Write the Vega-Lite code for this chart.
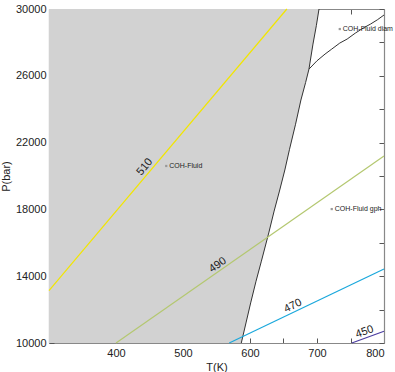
{
  "$schema": "https://vega.github.io/schema/vega-lite/v6.json",
  "width": 335,
  "height": 334,
  "padding": {"left": 0, "top": 3, "right": 2, "bottom": 3},
  "config": {
    "font": "Liberation Sans",
    "view": {"stroke": null},
    "axis": {
      "domainColor": "#888888",
      "domainWidth": 1.2,
      "tickColor": "#555555",
      "tickSize": -5,
      "grid": false,
      "labelFont": "Liberation Sans",
      "labelFontSize": 11,
      "labelColor": "#222222",
      "titleFont": "Liberation Sans",
      "titleFontSize": 11,
      "titleFontWeight": "normal",
      "titleColor": "#222222"
    }
  },
  "datasets": {
    "boundary": [
      {"T": 587, "P": 10000},
      {"T": 594, "P": 11200},
      {"T": 601, "P": 12400},
      {"T": 609, "P": 13700},
      {"T": 617, "P": 14900},
      {"T": 628, "P": 16590},
      {"T": 636, "P": 17900},
      {"T": 644, "P": 19100},
      {"T": 652, "P": 20360},
      {"T": 659, "P": 21600},
      {"T": 668, "P": 23100},
      {"T": 676, "P": 24550},
      {"T": 683, "P": 25600},
      {"T": 688, "P": 26400},
      {"T": 694, "P": 27900},
      {"T": 699, "P": 29000},
      {"T": 703, "P": 30000}
    ],
    "diam": [
      {"T": 688, "P": 26400},
      {"T": 700, "P": 26900},
      {"T": 712, "P": 27300},
      {"T": 722, "P": 27600},
      {"T": 734, "P": 27960},
      {"T": 745, "P": 28200},
      {"T": 757, "P": 28550},
      {"T": 769, "P": 28860},
      {"T": 780, "P": 29100},
      {"T": 790, "P": 29350},
      {"T": 800, "P": 29640}
    ],
    "contours": [
      {"level": "510", "T": 300, "P": 13130},
      {"level": "510", "T": 655, "P": 30000},
      {"level": "490", "T": 400, "P": 10000},
      {"level": "490", "T": 800, "P": 21200},
      {"level": "470", "T": 569, "P": 10000},
      {"level": "470", "T": 800, "P": 14430},
      {"level": "450", "T": 752, "P": 10000},
      {"level": "450", "T": 800, "P": 10700}
    ],
    "fields": [
      {"name": "COH-Fluid", "T": 475, "P": 20600},
      {"name": "COH-Fluid diam", "T": 734, "P": 28800},
      {"name": "COH-Fluid gph", "T": 722, "P": 18020}
    ]
  },
  "layer": [
    {
      "data": {"name": "boundary"},
      "mark": {"type": "area", "orient": "horizontal", "color": "#d2d2d2"},
      "encoding": {
        "y": {"field": "P", "type": "quantitative", "scale": {"domain": [10000, 30000], "nice": false, "zero": false},
          "axis": {"orient": "left", "title": "P(bar)", "values": [10000,12000,14000,16000,18000,20000,22000,24000,26000,28000,30000],
            "format": "d", "labelExpr": "(datum.value - 10000) % 4000 == 0 ? datum.label : ''", "labelPadding": 8, "titlePadding": 4}},
        "x": {"field": "T", "type": "quantitative", "scale": {"domain": [300, 800], "nice": false, "zero": false},
          "axis": {"orient": "bottom", "title": "T(K)", "values": [300,350,400,450,500,550,600,650,700,750,800],
            "labelExpr": "datum.value % 100 == 0 && datum.value > 300 ? datum.label : ''", "labelPadding": 9, "titlePadding": 3}},
        "x2": {"datum": 300}
      }
    },
    {
      "data": {"name": "boundary"},
      "mark": {"type": "line", "color": "#333333", "strokeWidth": 1},
      "encoding": {
        "y": {"field": "P", "type": "quantitative",
          "axis": {"orient": "right", "title": null, "labels": false, "values": [10000,12000,14000,16000,18000,20000,22000,24000,26000,28000,30000]}},
        "x": {"field": "T", "type": "quantitative",
          "axis": {"orient": "top", "title": null, "labels": false, "values": [300,350,400,450,500,550,600,650,700,750,800]}},
        "order": {"field": "P"}
      }
    },
    {
      "data": {"name": "diam"},
      "mark": {"type": "line", "color": "#333333", "strokeWidth": 1},
      "encoding": {
        "x": {"field": "T", "type": "quantitative", "axis": null},
        "y": {"field": "P", "type": "quantitative", "axis": null}
      }
    },
    {
      "data": {"name": "contours"},
      "mark": {"type": "line", "strokeWidth": 1.2},
      "encoding": {
        "x": {"field": "T", "type": "quantitative", "axis": null},
        "y": {"field": "P", "type": "quantitative", "axis": null},
        "color": {"field": "level", "type": "nominal", "legend": null,
          "scale": {"domain": ["510", "490", "470", "450"], "range": ["#f2e600", "#b4c870", "#1aa8dc", "#4a3ca0"]}}
      }
    },
    {
      "data": {"values": [{"label": "510", "T": 443, "P": 20540}]},
      "mark": {"type": "text", "angle": 310, "fontSize": 11, "color": "#222222"},
      "encoding": {"x": {"field": "T", "type": "quantitative", "axis": null}, "y": {"field": "P", "type": "quantitative", "axis": null}, "text": {"field": "label"}}
    },
    {
      "data": {"values": [{"label": "490", "T": 552, "P": 14670}]},
      "mark": {"type": "text", "angle": 325, "fontSize": 11, "color": "#222222"},
      "encoding": {"x": {"field": "T", "type": "quantitative", "axis": null}, "y": {"field": "P", "type": "quantitative", "axis": null}, "text": {"field": "label"}}
    },
    {
      "data": {"values": [{"label": "470", "T": 664, "P": 12220}]},
      "mark": {"type": "text", "angle": 334, "fontSize": 11, "color": "#222222"},
      "encoding": {"x": {"field": "T", "type": "quantitative", "axis": null}, "y": {"field": "P", "type": "quantitative", "axis": null}, "text": {"field": "label"}}
    },
    {
      "data": {"values": [{"label": "450", "T": 771, "P": 10660}]},
      "mark": {"type": "text", "angle": 340, "fontSize": 11, "color": "#222222"},
      "encoding": {"x": {"field": "T", "type": "quantitative", "axis": null}, "y": {"field": "P", "type": "quantitative", "axis": null}, "text": {"field": "label"}}
    },
    {
      "data": {"name": "fields"},
      "mark": {"type": "square", "size": 5, "color": "#999999", "opacity": 1},
      "encoding": {"x": {"field": "T", "type": "quantitative", "axis": null}, "y": {"field": "P", "type": "quantitative", "axis": null}}
    },
    {
      "data": {"name": "fields"},
      "mark": {"type": "text", "align": "left", "dx": 3, "fontSize": 7, "color": "#222222"},
      "encoding": {"x": {"field": "T", "type": "quantitative", "axis": null}, "y": {"field": "P", "type": "quantitative", "axis": null}, "text": {"field": "name"}}
    }
  ],
  "resolve": {"axis": {"x": "independent", "y": "independent"}}
}
